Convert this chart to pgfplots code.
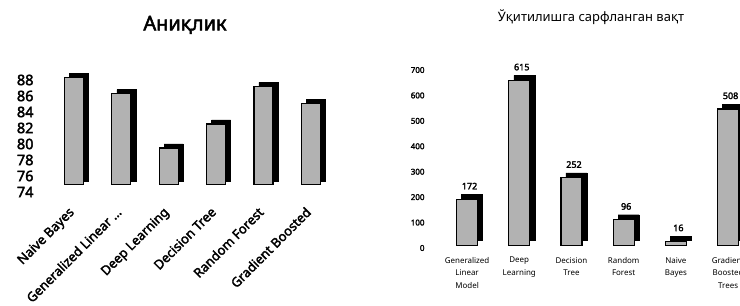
\documentclass[border=0pt]{standalone}
\usepackage{fontspec}
\setmainfont{Noto Sans}[AutoFakeBold=2.5]
\usepackage{pgfplots}
\pgfplotsset{compat=1.18}
\usepackage{pgfplotstable}

\pgfplotstableread{
i v
0 88.3
1 86.3
2 79.5
3 82.5
4 87.2
5 85.1
}\acc
\pgfplotstableread{
i v
0 172
1 615
2 252
3 96
4 16
5 508
}\tim

\begin{document}
\begin{tikzpicture}
\useasboundingbox (0bp,0bp) rectangle (740bp,306bp);
\clip (0bp,0bp) rectangle (740bp,306bp);
\fill[white] (0bp,0bp) rectangle (740bp,306bp);

% ---------- left: accuracy ----------
\begin{axis}[at={(41bp,118bp)}, anchor=south west, scale only axis,
  width=312.8bp, height=128bp, xmin=-0.8, xmax=5.8, ymin=74, ymax=90,
  hide axis, ybar stacked, bar width=19bp]
\addplot[draw=none, fill=none] table[x=i, y expr=74.9]{\acc};
\addplot[fill=black, draw=black] table[x=i, y expr=\thisrow{v}-74.9]{\acc};
\end{axis}
\begin{axis}[at={(36bp,114bp)}, anchor=south west, scale only axis,
  width=312.8bp, height=128bp, xmin=-0.8, xmax=5.8, ymin=74, ymax=90,
  axis line style={draw=none}, tick style={draw=none},
  ybar stacked, bar width=19bp,
  ytick={74,76,78,80,82,84,86,88},
  /pgf/number format/assume math mode=true,
  yticklabel style={font=\fontsize{14.5}{14.5}\selectfont\bfseries, xshift=1bp},
  xtick={0,1,2,3,4,5},
  xticklabels={Naive Bayes, {Generalized Linear \ldots}, Deep Learning, Decision Tree, Random Forest, Gradient Boosted},
  xticklabel style={yshift=-14bp, xshift=-6bp, rotate=45, anchor=north east, inner sep=0pt,
    font=\fontsize{13}{13}\selectfont\bfseries}]
\addplot[draw=none, fill=none] table[x=i, y expr=74.9]{\acc};
\addplot[fill=gray!60, draw=black, line width=1.3bp] table[x=i, y expr=\thisrow{v}-74.9]{\acc};
\end{axis}
\node[font=\fontsize{20}{20}\selectfont\bfseries] at (185bp,281bp) {Аниқлик};

% ---------- right: training time ----------
\begin{axis}[at={(430bp,58bp)}, anchor=south west, scale only axis,
  width=310bp, height=178bp, xmin=0, xmax=1, ymin=0, ymax=700,
  axis line style={draw=none}, tick style={draw=none},
  xtick=\empty, ytick={0,100,200,300,400,500,600,700},
  /pgf/number format/assume math mode=true,
  yticklabel style={font=\fontsize{8}{8}\selectfont\bfseries, xshift=-2bp}]
\addplot[draw=none] coordinates {(0.5,0)};
\end{axis}
\begin{axis}[at={(435bp,65.5bp)}, anchor=south west, scale only axis,
  width=329.4bp, height=188bp, xmin=-0.71, xmax=5.6, ymin=0, ymax=700,
  hide axis, ybar, bar width=21bp]
\addplot[fill=black, draw=black, bar shift=0pt] table[x=i, y=v]{\tim};
\end{axis}
\begin{axis}[at={(430bp,60.5bp)}, anchor=south west, scale only axis,
  width=329.4bp, height=188bp, xmin=-0.71, xmax=5.6, ymin=0, ymax=700,
  axis line style={draw=none}, tick style={draw=none},
  ybar, bar width=21bp, ytick=\empty,
  xtick={0,1,2,3,4,5},
  xticklabels={{Generalized\\Linear\\Model}, {Deep\\Learning}, {Decision\\Tree}, {Random\\Forest}, {Naive\\Bayes}, {Gradient\\Boosted\\Trees}},
  xticklabel style={font=\fontsize{8}{12.5}\selectfont, align=center, anchor=north, yshift=-4bp},
  nodes near coords,
  /pgf/number format/assume math mode=true,
  every node near coord/.append style={font=\fontsize{9}{9}\selectfont\bfseries, yshift=6bp, xshift=2.5bp}]
\addplot[fill=gray!60, draw=black, line width=1.3bp, bar shift=0pt] table[x=i, y=v]{\tim};
\end{axis}
\node[font=\fontsize{13}{13}\selectfont] at (591bp,289bp) {Ўқитилишга сарфланган вақт};
\end{tikzpicture}
\end{document}
